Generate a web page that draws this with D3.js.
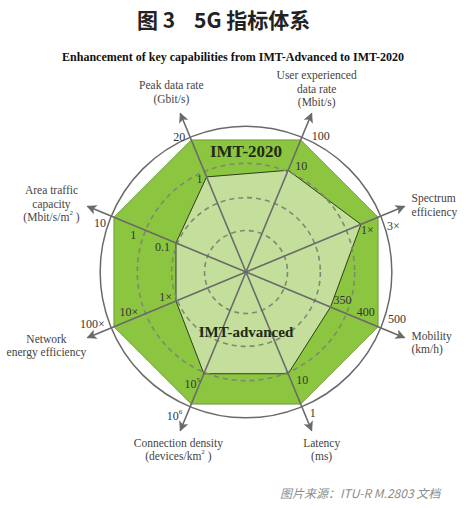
<!DOCTYPE html>
<html>
<head>
<meta charset="utf-8">
<script src="https://cdn.jsdelivr.net/npm/d3@7"></script>
<style>
  body { margin: 0; background: #fff; }
  svg { display: block; }
</style>
</head>
<body>
<div id="chart"></div>
<script>
// Axes, clockwise from the upper-left one
const axisNames = ["Peak data rate", "User experienced data rate", "Spectrum efficiency", "Mobility",
    "Latency", "Connection density", "Network energy efficiency", "Area traffic capacity"];
const axisLabelLines = [
    ["Peak data rate", "(Gbit/s)"],
    ["User experienced", "data rate", "(Mbit/s)"],
    ["Spectrum", "efficiency"],
    ["Mobility", "(km/h)"],
    ["Latency", "(ms)"],
    ["Connection density", "(devices/km^2 )"],
    ["Network", "energy efficiency"],
    ["Area traffic", "capacity", "(Mbit/s/m^2 )"]
];

// Normalised radius of each polygon on each axis
const imt2020 = [1, 1, 1, 1, 1, 1, 1, 1];
const imtAdvanced = [0.72, 0.77, 0.87, 0.64, 0.77, 0.77, 0.53, 0.53];

// Tick labels
const imt2020Labels = ["20", "100", "3×", "500", "1", "10^6", "100×", "10"];
const imtAdvancedLabels = ["1", "10", "1×", "350", "10", "10^5", "1×", "0.1"];
const midAxis = [7, 6, 3];
const midValue = [0.8, 0.8, 0.8];
const midLabels = ["1", "10×", "400"];

// Dashed reference rings
const rings = [0.29, 0.52, 0.76];

const width = 466, height = 508;
const cx = 246, cy = 272;

let svg = d3.select("#chart")
    .append("svg")
    .attr("width", width)
    .attr("height", height);

// Title and subtitle
let titleFont = "'Noto Sans CJK SC', 'Noto Sans', sans-serif";
let serif = "'Liberation Serif', 'DejaVu Serif', serif";
svg.append("text")
    .attr("x", 137).attr("y", 28)
    .style("font-family", titleFont).style("font-weight", 700)
    .style("font-size", "21px").style("fill", "#222")
    .text("图 3");
svg.append("text")
    .attr("x", 194).attr("y", 28)
    .style("font-family", titleFont).style("font-weight", 700)
    .style("font-size", "21px").style("fill", "#222")
    .text("5G 指标体系");
svg.append("text")
    .attr("x", 233).attr("y", 61)
    .style("text-anchor", "middle")
    .style("font-family", serif).style("font-weight", 700)
    .style("font-size", "12px").style("fill", "#111")
    .text("Enhancement of key capabilities from IMT-Advanced to IMT-2020");

// Caption
svg.append("text")
    .attr("x", 280).attr("y", 498)
    .style("font-family", titleFont).style("font-style", "italic")
    .style("font-size", "12px").style("fill", "#8c8c8c")
    .text("图片来源：ITU-R M.2803 文档");

let g = svg.append("g")
    .attr("transform", `translate(${cx}, ${cy})`);

// Scales: angle from 12 o'clock, clockwise; radius normalised
let angle = d3.scaleLinear()
    .domain([0, axisNames.length])
    .range([-Math.PI / 8, 2 * Math.PI - Math.PI / 8]);
let r = d3.scaleLinear()
    .domain([0, 1])
    .range([0, 143]);

function pt(i, v) {
    let a = angle(i);
    return [r(v) * Math.sin(a), -r(v) * Math.cos(a)];
}

let radial = d3.lineRadial()
    .angle((d, i) => angle(i))
    .radius(d => r(d))
    .curve(d3.curveLinearClosed);

// Outer circle
g.append("circle")
    .attr("r", r(1.02))
    .attr("fill", "none")
    .attr("stroke", "#6a6a6a")
    .attr("stroke-width", 1.5);

// IMT-2020 polygon
g.append("path")
    .attr("d", radial(imt2020))
    .attr("fill", "#8cc540")
    .attr("stroke", "#5f8f2a")
    .attr("stroke-width", 0.8);

// IMT-advanced polygon
g.append("path")
    .attr("d", radial(imtAdvanced))
    .attr("fill", "#c3df9b")
    .attr("stroke", "#2f3d22")
    .attr("stroke-width", 1);

// Dashed rings
g.selectAll(".ring")
    .data(rings)
    .enter()
    .append("circle")
    .attr("class", "ring")
    .attr("r", d => r(d))
    .attr("fill", "none")
    .attr("stroke", "#7d8a72")
    .attr("stroke-width", 1.6)
    .attr("stroke-dasharray", "5,4");

// Arrow marker
svg.append("defs").append("marker")
    .attr("id", "arrow")
    .attr("viewBox", "0 0 10 10")
    .attr("refX", 9).attr("refY", 5)
    .attr("markerWidth", 10).attr("markerHeight", 10)
    .attr("markerUnits", "userSpaceOnUse")
    .attr("orient", "auto")
    .append("path")
    .attr("d", "M0,0 L10,5 L0,10 L2.5,5 Z")
    .attr("fill", "#6a6a6a");

// Axis lines with arrows
g.selectAll(".axis")
    .data(axisNames)
    .enter()
    .append("line")
    .attr("class", "axis")
    .attr("x1", 0).attr("y1", 0)
    .attr("x2", (d, i) => pt(i, 1.2)[0])
    .attr("y2", (d, i) => pt(i, 1.2)[1])
    .attr("stroke", "#6a6a6a")
    .attr("stroke-width", 1.6)
    .attr("marker-end", "url(#arrow)");

// Polygon names
g.append("text")
    .attr("x", 0).attr("y", -115)
    .style("text-anchor", "middle")
    .style("font-family", serif).style("font-weight", 700)
    .style("font-size", "17px").style("fill", "#1f2a16")
    .text("IMT-2020");
g.append("text")
    .attr("x", 0).attr("y", 65)
    .style("text-anchor", "middle")
    .style("font-family", serif).style("font-weight", 700)
    .style("font-size", "15px").style("fill", "#1f2a16")
    .text("IMT-advanced");

// Writes "a^b" with a small raised b
function writeSup(sel, s) {
    let parts = s.split("^");
    sel.text(null);
    sel.append("tspan").text(parts[0]);
    if (parts.length > 1) {
        let rest = parts[1];
        sel.append("tspan").attr("dy", -6).style("font-size", "7px").text(rest[0]);
        if (rest.length > 1) sel.append("tspan").attr("dy", 6).text(rest.slice(1));
    }
}

// Label placement [anchor, dx, dy] per axis
const outerPlace = [["end", -6, 1], ["start", 11, 0], ["start", 9, 13], ["start", 10, -4],
    ["start", 9, 13], ["end", -9, 16], ["end", -9, 1], ["end", -8, 10]];
const innerPlace = [["end", -4, 6], ["start", 7, 0], ["start", 0, 10], ["start", 3, -3],
    ["start", 8, 10], ["end", -4, 14], ["end", -4, 0], ["end", -6, 8]];
const midPlace = [["end", -4, 11], ["end", -2, 0], ["start", 5, 0]];

function tickLabel(i, v, txt, place) {
    let p = pt(i, v);
    let t = g.append("text")
        .attr("x", p[0] + place[1])
        .attr("y", p[1] + place[2])
        .style("text-anchor", place[0])
        .style("font-family", serif)
        .style("font-size", "12px")
        .style("fill", "#333");
    writeSup(t, txt);
}

imt2020Labels.forEach((d, i) => tickLabel(i, imt2020[i], d, outerPlace[i]));
imtAdvancedLabels.forEach((d, i) => tickLabel(i, imtAdvanced[i], d, innerPlace[i]));
midLabels.forEach((d, k) => tickLabel(midAxis[k], midValue[k], d, midPlace[k]));

// Axis names beyond the arrow tips [anchor, dx, dy of first line]
const namePlace = [["middle", -9, -24], ["middle", 5, -34], ["start", 7, -4], ["start", 7, 2],
    ["middle", 10, 16], ["middle", -2, 16], ["middle", -41, 5], ["middle", -36, -12]];

axisLabelLines.forEach((lines, i) => {
    let p = pt(i, 1.2);
    let place = namePlace[i];
    lines.forEach((line, k) => {
        let t = g.append("text")
            .attr("x", p[0] + place[1])
            .attr("y", p[1] + place[2] + k * 13.5)
            .style("text-anchor", place[0])
            .style("font-family", serif)
            .style("font-size", "11.5px")
            .style("fill", "#444");
        writeSup(t, line);
    });
});
</script>
</body>
</html>
